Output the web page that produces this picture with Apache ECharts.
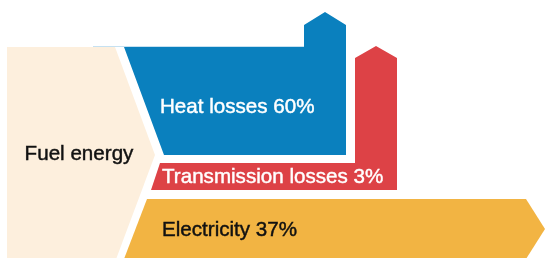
<!DOCTYPE html>
<html>
<head>
<meta charset="utf-8">
<script src="https://cdn.jsdelivr.net/npm/echarts@6/dist/echarts.min.js"></script>
<style>
  html, body { margin: 0; padding: 0; background: #fff; }
  #chart { width: 545px; height: 258px; }
</style>
</head>
<body>
<div id="chart"></div>
<script>
// Chart data
const sourceName = 'Fuel energy';
const flowNames = ['Heat losses', 'Transmission losses', 'Electricity'];
const flowShares = [60, 3, 37];

(function () {
    'use strict';

    const chart = echarts.init(document.getElementById('chart'));

    // Diagram layout (in axis units = canvas pixels)
    const layout = {
        source: [[7, 47], [115, 47], [155, 155], [115, 262], [7, 262]],
        flows: [
            [[124, 47], [304, 47], [304, 25], [325, 12], [346, 25], [346, 155], [164, 155]],
            [[160, 163], [355, 163], [355, 58], [376, 46], [397, 58], [397, 190], [151, 190]],
            [[147, 199], [526, 199], [545, 229], [526, 259], [124, 259]]
        ],
        labelPos: [[160, 107], [162, 177], [162, 230]],
        sourceLabel: [79, 154]
    };

    const colors = {
        source: '#fdefdd',
        flows: ['#0a80be', '#dd4246', '#f2b443'],
        text: ['#ffffff', '#ffffff', '#111111']
    };

    const font = '20.6px Liberation Sans, Arial, sans-serif';

    const items = [{ value: 100, name: sourceName, kind: 'source' }]
        .concat(flowNames.map((name, i) => ({ value: flowShares[i], name: name, kind: 'flow', idx: i })));

    // text slightly heavier than regular, like the original
    const textStyle = (text, fill, align) => ({
        text: text, fill: fill, font: font, align: align, verticalAlign: 'middle',
        stroke: fill, lineWidth: 0.45
    });

    const renderItem = (params, api) => {
        const item = items[params.dataIndex];
        const toPx = pts => pts.map(p => api.coord(p));
        if (item.kind === 'source') {
            const c = api.coord(layout.sourceLabel);
            return {
                type: 'group',
                children: [
                    { type: 'polygon', shape: { points: toPx(layout.source) }, style: { fill: colors.source } },
                    { type: 'text', x: c[0], y: c[1], style: textStyle(item.name, '#111111', 'center') }
                ]
            };
        }
        const i = item.idx;
        const c = api.coord(layout.labelPos[i]);
        const children = [
            { type: 'polygon', shape: { points: toPx(layout.flows[i]) }, style: { fill: colors.flows[i] } }
        ];
        // thin light edge along top of heat band
        if (i === 0) {
            const a = api.coord([93, 46.5]);
            const b = api.coord([304, 46.5]);
            children.push({ type: 'line', shape: { x1: a[0], y1: a[1], x2: b[0], y2: b[1] }, style: { stroke: '#c6e1f1', lineWidth: 1 } });
        }
        children.push({
            type: 'text', x: c[0], y: c[1],
            style: textStyle(item.name + ' ' + item.value + '%', colors.text[i], 'left')
        });
        return { type: 'group', children: children };
    };

    const option = {
        animation: false,
        grid: { left: 0, right: 0, top: 0, bottom: 0 },
        xAxis: { type: 'value', min: 0, max: 545, show: false },
        yAxis: { type: 'value', min: 0, max: 258, inverse: true, show: false },
        series: [{
            type: 'custom',
            renderItem: renderItem,
            data: items.map(d => [0, 0, d.value]),
            encode: { x: 0, y: 1 },
            silent: true
        }]
    };

    chart.setOption(option);
})();
</script>
</body>
</html>
